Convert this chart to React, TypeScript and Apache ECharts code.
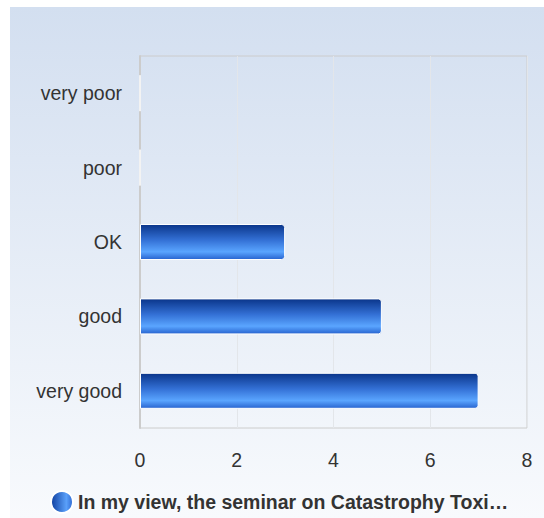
import React, { useEffect, useRef } from "react";
import * as echarts from "echarts";

const categories = ["very poor", "poor", "OK", "good", "very good"];
const values = [0, 0, 3, 5, 7];
const seriesName = "In my view, the seminar on Catastrophy Toxi…";
const xTicks = { min: 0, max: 8, interval: 2 };

const FONT = "Arial, 'Liberation Sans', sans-serif";

export default function App() {
  const ref = useRef<HTMLDivElement>(null);
  useEffect(() => {
    if (!ref.current) return;
    const chart = echarts.init(ref.current, undefined, { renderer: "svg" });
    const barGrad = new echarts.graphic.LinearGradient(0, 0, 0, 1, [
      { offset: 0, color: "#0a358a" },
      { offset: 0.45, color: "#3471d6" },
      { offset: 0.78, color: "#5aa5ff" },
      { offset: 1, color: "#2763cf" },
    ]);
    const legendGrad = new echarts.graphic.LinearGradient(0, 0, 1, 0, [
      { offset: 0, color: "#0f3f9f" },
      { offset: 0.7, color: "#5aa0fa" },
      { offset: 1, color: "#2d67d0" },
    ]);
    chart.setOption({
      animation: false,
      backgroundColor: "#ffffff",
      graphic: [
        {
          type: "rect",
          z: -10,
          silent: true,
          shape: { x: 10, y: 7, width: 534, height: 511 },
          style: {
            fill: new echarts.graphic.LinearGradient(0, 0, 0, 1, [
              { offset: 0, color: "#d3dff0" },
              { offset: 1, color: "#f8fafd" },
            ]),
          },
        },
      ],
      grid: {
        left: 140,
        right: 17,
        top: 56,
        bottom: 90,
        show: true,
        borderColor: "#cccccc",
        borderWidth: 1,
        backgroundColor: "transparent",
      },
      legend: {
        bottom: -1,
        left: 45,
        icon: "circle",
        itemWidth: 22,
        itemHeight: 22,
        itemGap: 5,
        textStyle: { fontFamily: FONT, fontWeight: "bold", fontSize: 19.5, color: "#333" },
        data: [{ name: seriesName, itemStyle: { color: legendGrad } }],
      },
      xAxis: {
        type: "value",
        min: xTicks.min,
        max: xTicks.max,
        interval: xTicks.interval,
        axisLine: { show: false },
        axisTick: { show: false },
        splitLine: { show: true, lineStyle: { color: "#e3e6ea", width: 1 } },
        axisLabel: { fontFamily: FONT, fontSize: 19.5, color: "#333", margin: 22 },
      },
      yAxis: {
        type: "category",
        data: categories,
        inverse: true,
        axisLine: { show: true, lineStyle: { color: "#cccccc", width: 2 } },
        axisTick: { show: false },
        splitLine: { show: false },
        axisLabel: { fontFamily: FONT, fontSize: 19.5, color: "#333", margin: 18 },
      },
      series: [
        {
          name: seriesName,
          type: "bar",
          data: values,
          barWidth: 36,
          itemStyle: {
            color: barGrad,
            borderColor: "#ffffff",
            borderWidth: 1,
            borderRadius: [0, 3, 3, 0],
          },
        },
      ],
    });
    return () => chart.dispose();
  }, []);
  return (
    <div
      ref={ref}
      style={{ position: "absolute", left: 0, top: 0, width: 544, height: 518 }}
    />
  );
}
